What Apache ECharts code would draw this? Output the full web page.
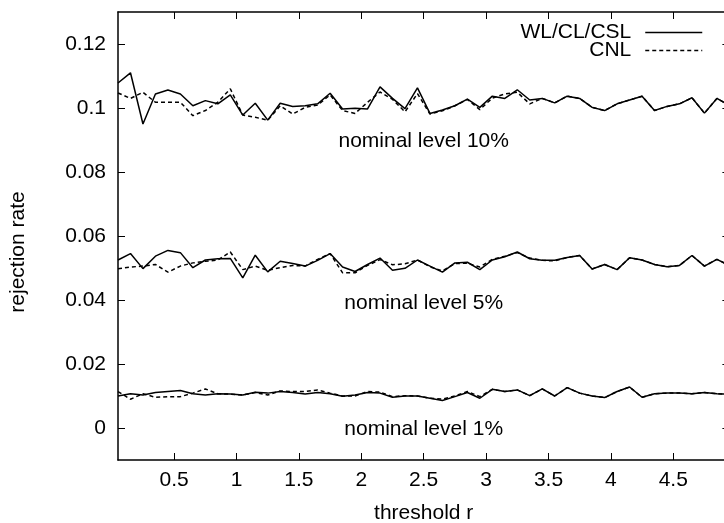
<!DOCTYPE html>
<html>
<head>
<meta charset="utf-8">
<script src="https://cdn.jsdelivr.net/npm/echarts@6/dist/echarts.min.js"></script>
<style>
html,body{margin:0;padding:0;background:#fff;overflow:hidden;}
#c{width:724px;height:523px;}
</style>
</head>
<body>
<div id="c"></div>
<script>
const r = [0.05,0.15,0.25,0.35,0.45,0.55,0.65,0.75,0.85,0.95,1.05,1.15,1.25,1.35,1.45,1.55,1.65,1.75,1.85,1.95,2.05,2.15,2.25,2.35,2.45,2.55,2.65,2.75,2.85,2.95,3.05,3.15,3.25,3.35,3.45,3.55,3.65,3.75,3.85,3.95,4.05,4.15,4.25,4.35,4.45,4.55,4.65,4.75,4.85,4.95];

const wl10 = [0.1078,0.1110,0.0950,0.1044,0.1056,0.1044,0.1007,0.1023,0.1013,0.1041,0.0978,0.1015,0.0962,0.1015,0.1005,0.1007,0.1013,0.1046,0.0997,0.0999,0.0997,0.1066,0.1030,0.0998,0.1063,0.0983,0.0994,0.1007,0.1028,0.1002,0.1037,0.1030,0.1057,0.1025,0.1030,0.1016,0.1037,0.1030,0.1002,0.0992,0.1013,0.1025,0.1037,0.0992,0.1005,0.1013,0.1032,0.0984,0.1030,0.1008];
const cnl10 = [0.1047,0.1030,0.1049,0.1018,0.1018,0.1018,0.0976,0.0992,0.1018,0.1060,0.0978,0.0971,0.0962,0.1007,0.0981,0.1002,0.1009,0.1041,0.0992,0.0983,0.1018,0.1050,0.1027,0.0988,0.1045,0.0981,0.0991,0.1007,0.1027,0.0995,0.1031,0.1044,0.1049,0.1013,0.1030,0.1016,0.1037,0.1030,0.1002,0.0992,0.1013,0.1025,0.1037,0.0992,0.1005,0.1013,0.1032,0.0984,0.1030,0.1008];

const wl5 = [0.0525,0.0545,0.0498,0.0537,0.0555,0.0548,0.0501,0.0525,0.0529,0.0530,0.0469,0.0540,0.0488,0.0521,0.0514,0.0506,0.0524,0.0545,0.0503,0.0489,0.0511,0.0531,0.0493,0.0499,0.0525,0.0506,0.0487,0.0516,0.0518,0.0495,0.0525,0.0535,0.0550,0.0529,0.0524,0.0524,0.0533,0.0539,0.0497,0.0511,0.0495,0.0532,0.0525,0.0511,0.0504,0.0508,0.0539,0.0506,0.0527,0.0508];
const cnl5 = [0.0498,0.0503,0.0506,0.0511,0.0487,0.0506,0.0516,0.0521,0.0525,0.0550,0.0495,0.0506,0.0493,0.0501,0.0508,0.0506,0.0527,0.0545,0.0485,0.0485,0.0508,0.0526,0.0510,0.0513,0.0525,0.0504,0.0491,0.0514,0.0515,0.0503,0.0527,0.0537,0.0548,0.0531,0.0524,0.0522,0.0533,0.0539,0.0497,0.0511,0.0495,0.0532,0.0525,0.0511,0.0504,0.0508,0.0539,0.0506,0.0527,0.0508];

const wl1 = [0.0100,0.0107,0.0103,0.0111,0.0114,0.0117,0.0107,0.0103,0.0107,0.0106,0.0103,0.0112,0.0109,0.0114,0.0111,0.0106,0.0111,0.0107,0.0099,0.0103,0.0111,0.0109,0.0096,0.0100,0.0100,0.0093,0.0086,0.0098,0.0111,0.0093,0.0121,0.0114,0.0119,0.0101,0.0122,0.0100,0.0126,0.0109,0.0100,0.0095,0.0114,0.0128,0.0096,0.0107,0.0109,0.0109,0.0107,0.0111,0.0107,0.0105];
const cnl1 = [0.0114,0.0090,0.0107,0.0096,0.0098,0.0098,0.0109,0.0122,0.0107,0.0106,0.0103,0.0111,0.0103,0.0116,0.0114,0.0114,0.0119,0.0109,0.0100,0.0100,0.0114,0.0112,0.0098,0.0101,0.0100,0.0093,0.0090,0.0100,0.0114,0.0098,0.0121,0.0114,0.0119,0.0101,0.0122,0.0100,0.0126,0.0109,0.0100,0.0095,0.0114,0.0128,0.0096,0.0107,0.0109,0.0109,0.0107,0.0111,0.0107,0.0105];

const xTicks = [0.5,1,1.5,2,2.5,3,3.5,4,4.5];
const yTicks = [0,0.02,0.04,0.06,0.08,0.1,0.12];
const seriesNames = ['WL/CL/CSL','CNL'];
const annotations = [
  {text:'nominal level 10%', x:2.5, y:0.0897},
  {text:'nominal level 5%', x:2.5, y:0.0391},
  {text:'nominal level 1%', x:2.5, y:-0.0005}
];

const FONT = "'Liberation Sans', Arial, Helvetica, sans-serif";
const FS = 21;
const pair = (xs, ys) => xs.map((x, i) => [x, ys[i]]);

const chart = echarts.init(document.getElementById('c'), null, {renderer:'canvas'});

function lineSeries(name, ys, dashed, extra) {
  return Object.assign({
    type:'line', name:name, data:pair(r, ys), symbol:'none', animation:false,
    lineStyle:{color:'#000', width:1.5, type: dashed ? [4,3] : 'solid'},
    itemStyle:{color:'#000'}, z: dashed ? 3 : 2
  }, extra || {});
}

const axisCommon = {
  axisLine:{show:true, onZero:false, lineStyle:{color:'#000', width:1.5}},
  splitLine:{show:false}
};

chart.setOption({
  animation:false,
  backgroundColor:'#fff',
  textStyle:{fontFamily:FONT},
  grid:{left:118, top:12, width:611.4, height:448, containLabel:false, outerBoundsMode:'none'},
  legend:{
    data:seriesNames, orient:'vertical', right:21, top:22, padding:0,
    align:'right', itemWidth:57, itemHeight:10, itemGap:-3, selectedMode:false,
    itemStyle:{opacity:0, color:'rgba(0,0,0,0)', borderWidth:0},
    lineStyle:{width:1.5},
    textStyle:{fontFamily:FONT, fontSize:FS, color:'#000', lineHeight:18, padding:[0,9,0,0]}
  },
  xAxis:[
    Object.assign({}, axisCommon, {
      type:'value', min:0.05, max:4.95, position:'bottom',
      name:'threshold r', nameLocation:'middle', nameGap:43,
      nameTextStyle:{fontFamily:FONT, fontSize:FS, color:'#000'},
      axisTick:{show:true, inside:true, length:7, customValues:xTicks, lineStyle:{color:'#000', width:1}},
      axisLabel:{show:true, customValues:xTicks, margin:10, fontFamily:FONT, fontSize:FS, color:'#000'}
    }),
    Object.assign({}, axisCommon, {
      type:'value', min:0.05, max:4.95, position:'top',
      axisTick:{show:true, inside:true, length:7, customValues:xTicks, lineStyle:{color:'#000', width:1}},
      axisLabel:{show:false}
    })
  ],
  yAxis:[
    Object.assign({}, axisCommon, {
      type:'value', min:-0.01, max:0.13, position:'left',
      name:'rejection rate', nameLocation:'middle', nameGap:89, nameRotate:90,
      nameTextStyle:{fontFamily:FONT, fontSize:FS, color:'#000', padding:[0,32,0,0]},
      axisTick:{show:true, inside:true, length:7, customValues:yTicks, lineStyle:{color:'#000', width:1}},
      axisLabel:{show:true, customValues:yTicks, margin:12, fontFamily:FONT, fontSize:FS, color:'#000'}
    }),
    Object.assign({}, axisCommon, {
      type:'value', min:-0.01, max:0.13, position:'right',
      axisTick:{show:true, inside:true, length:7, customValues:yTicks, lineStyle:{color:'#000', width:1}},
      axisLabel:{show:false}
    })
  ],
  series:[
    lineSeries(seriesNames[0], wl10, false, {
      markPoint:{
        symbol:'circle', symbolSize:0, silent:true, animation:false,
        label:{show:true, position:'inside', fontFamily:FONT, fontSize:FS, color:'#000',
               formatter:(p) => p.name},
        data: annotations.map(a => ({name:a.text, coord:[a.x, a.y]}))
      }
    }),
    lineSeries(seriesNames[0], wl5, false),
    lineSeries(seriesNames[0], wl1, false),
    lineSeries(seriesNames[1], cnl10, true),
    lineSeries(seriesNames[1], cnl5, true),
    lineSeries(seriesNames[1], cnl1, true)
  ]
});
</script>
</body>
</html>
